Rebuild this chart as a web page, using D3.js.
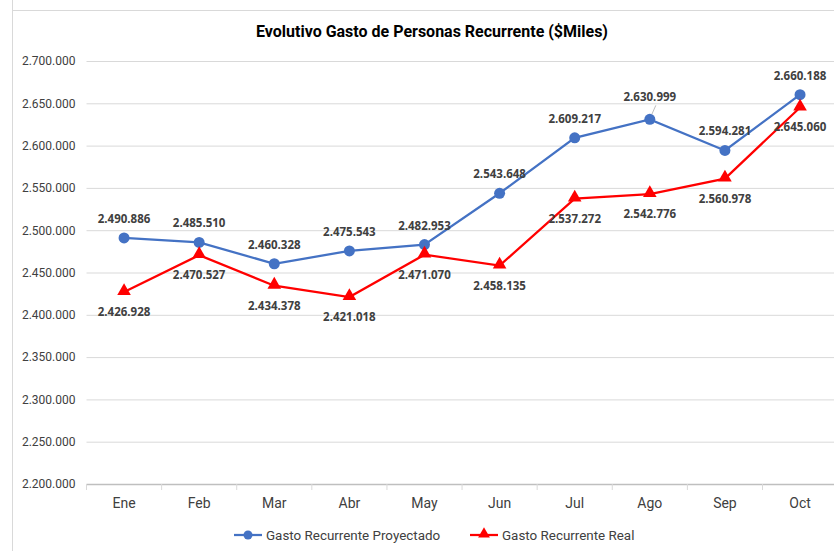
<!DOCTYPE html>
<html>
<head>
<meta charset="utf-8">
<script src="https://cdn.jsdelivr.net/npm/d3@7"></script>
<style>
  body { margin: 0; background: #fff; }
  svg text { fill: #404040; }
</style>
</head>
<body>
<div id="chart"></div>
<script>
    var width = 834;
    var height = 551;

    // values
    var months = ["Ene", "Feb", "Mar", "Abr", "May", "Jun", "Jul", "Ago", "Sep", "Oct"];
    var proyectado = [2490886, 2485510, 2460328, 2475543, 2482953, 2543648, 2609217, 2630999, 2594281, 2660188];
    var real = [2426928, 2470527, 2434378, 2421018, 2471070, 2458135, 2537272, 2542776, 2560978, 2645060];
    var yTicks = [2200000, 2250000, 2300000, 2350000, 2400000, 2450000, 2500000, 2550000, 2600000, 2650000, 2700000];

    var narrow = "'Roboto', sans-serif";
    var bold = "'Open Sans', sans-serif";

    var fmt = function(v) {
      return d3.format(",")(v).replace(/,/g, ".");
    };

    var svg = d3.select("#chart")
                .append("svg")
                .attr("width", width)
                .attr("height", height);

    // outer chart frame (left and top edges visible)
    svg.append("line").attr("x1", 12.5).attr("x2", 12.5).attr("y1", 0).attr("y2", height)
       .attr("stroke", "#d9d9d9");
    svg.append("line").attr("x1", 12).attr("x2", width).attr("y1", 10.5).attr("y2", 10.5)
       .attr("stroke", "#d9d9d9");

    var x = d3.scalePoint().domain(months).range([86.5, 837.6]).padding(0.5);
    var step = x.step();
    var y = d3.scaleLinear().domain([2200000, 2700000]).range([484, 61]);

    // title
    svg.append("text")
       .attr("x", 432).attr("y", 37)
       .attr("text-anchor", "middle")
       .style("font-family", narrow).style("font-weight", "bold").style("font-size", "16px")
       .style("fill", "#000")
       .text("Evolutivo Gasto de Personas Recurrente ($Miles)");

    // gridlines + y labels
    var yAxis = d3.axisLeft(y).tickValues(yTicks).tickSize(-(width - 86.5)).tickFormat(fmt).tickPadding(11);
    var gy = svg.append("g").attr("transform", "translate(86.5,0)").call(yAxis);
    gy.select(".domain").remove();
    gy.selectAll(".tick line").attr("stroke", "#d9d9d9").attr("stroke-width", 1);
    gy.selectAll(".tick text").style("font-family", narrow).style("font-size", "12px").style("fill", "#404040");
    gy.selectAll(".tick").filter(function(d) { return d === 2200000; })
      .select("line").attr("stroke", "#bfbfbf").attr("stroke-width", 1.5);

    // x axis: ticks between categories
    var gx = svg.append("g").attr("transform", "translate(0,484)");
    gx.selectAll("line.sep")
      .data(d3.range(months.length + 1))
      .enter().append("line")
      .attr("class", "sep")
      .attr("x1", function(i) { return 86.5 + i * step; })
      .attr("x2", function(i) { return 86.5 + i * step; })
      .attr("y1", 0).attr("y2", 6)
      .attr("stroke", "#d9d9d9");
    gx.selectAll("text")
      .data(months)
      .enter().append("text")
      .attr("x", function(d) { return x(d); })
      .attr("y", 24)
      .attr("text-anchor", "middle")
      .style("font-family", narrow).style("font-size", "14px")
      .text(function(d) { return d; });

    var line = d3.line()
      .x(function(d, i) { return x(months[i]); })
      .y(function(d) { return y(d); });

    // blue series
    svg.append("path").datum(proyectado)
       .attr("d", line).attr("fill", "none")
       .attr("stroke", "#4472C4").attr("stroke-width", 2.25);
    // red series
    svg.append("path").datum(real)
       .attr("d", line).attr("fill", "none")
       .attr("stroke", "#FF0000").attr("stroke-width", 2.25);

    var tri = d3.symbol().type(d3.symbolTriangle).size(80);

    svg.selectAll("circle.p")
       .data(proyectado)
       .enter().append("circle")
       .attr("class", "p")
       .attr("cx", function(d, i) { return x(months[i]); })
       .attr("cy", function(d) { return y(d); })
       .attr("r", 5.5)
       .attr("fill", "#4472C4");

    svg.selectAll("path.r")
       .data(real)
       .enter().append("path")
       .attr("class", "r")
       .attr("d", tri)
       .attr("transform", function(d, i) { return "translate(" + x(months[i]) + "," + (y(d) - 1) + ")"; })
       .attr("fill", "#FF0000");

    // data labels
    var labelStyle = function(sel) {
      sel.attr("text-anchor", "middle")
         .style("font-family", bold).style("font-weight", "bold").style("font-size", "11.5px")
         .style("fill", "#404040");
    };

    svg.selectAll("text.lp")
       .data(proyectado)
       .enter().append("text")
       .attr("class", "lp")
       .attr("x", function(d, i) { return x(months[i]); })
       .attr("y", function(d, i) { return y(d) - (i === 7 ? 18 : 15); })
       .call(labelStyle)
       .text(fmt);

    // small leader line for Ago label
    svg.append("line")
       .attr("x1", x("Ago") + 2).attr("y1", y(proyectado[7]) - 5)
       .attr("x2", x("Ago") + 6).attr("y2", y(proyectado[7]) - 14)
       .attr("stroke", "#a6a6a6").attr("stroke-width", 0.75);

    svg.selectAll("text.lr")
       .data(real)
       .enter().append("text")
       .attr("class", "lr")
       .attr("x", function(d, i) { return x(months[i]); })
       .attr("y", function(d) { return y(d) + 24; })
       .call(labelStyle)
       .text(fmt);

    // legend
    var legend = [
      { name: "Gasto Recurrente Proyectado", color: "#4472C4", x: 234, shape: "circle" },
      { name: "Gasto Recurrente Real", color: "#FF0000", x: 470, shape: "triangle" }
    ];
    var lg = svg.selectAll("g.legend")
       .data(legend)
       .enter().append("g")
       .attr("class", "legend")
       .attr("transform", function(d) { return "translate(" + d.x + ",535)"; });
    lg.append("line")
      .attr("x1", 0).attr("x2", 28).attr("y1", 0).attr("y2", 0)
      .attr("stroke", function(d) { return d.color; }).attr("stroke-width", 2.25);
    lg.each(function(d) {
      var g = d3.select(this);
      if (d.shape === "circle") {
        g.append("circle").attr("cx", 14).attr("cy", 0).attr("r", 4.5).attr("fill", d.color);
      } else {
        g.append("path").attr("d", d3.symbol().type(d3.symbolTriangle).size(60))
         .attr("transform", "translate(14,-1)").attr("fill", d.color);
      }
    });
    lg.append("text")
      .attr("x", 32).attr("y", 4.5)
      .style("font-family", narrow).style("font-size", "13.4px")
      .style("fill", "#404040")
      .text(function(d) { return d.name; });
</script>
</body>
</html>
